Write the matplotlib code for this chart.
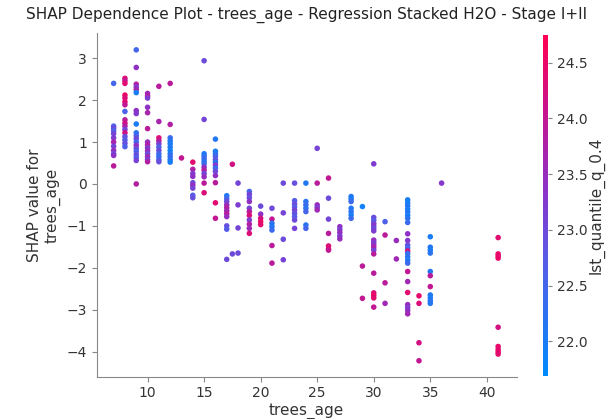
import numpy as np
import matplotlib
matplotlib.use("Agg")
import matplotlib.pyplot as plt
from matplotlib.colors import LinearSegmentedColormap

# trees_age, SHAP value and lst_quantile_q_0.4 for every sample, grouped by age
trees_age = (
    [7] * 12 + [8] * 17 + [9] * 20 + [10] * 14 + [11] * 11 + [12] * 11 + [13] * 1
    + [14] * 9 + [15] * 13 + [16] * 13 + [17] * 11 + [17.5] * 2 + [18] * 4
    + [19] * 11 + [20] * 5 + [21] * 7 + [22] * 4 + [23] * 9 + [24] * 7 + [25] * 5
    + [26] * 7 + [27] * 5 + [28] * 7 + [29] * 3 + [30] * 18 + [31] * 4 + [32] * 2
    + [33] * 24 + [34] * 4 + [35] * 11 + [36] * 1 + [41] * 9
)

shap_values = [
    2.40, 1.38, 1.33, 1.27, 1.20, 1.10, 1.00, 0.90, 0.80, 0.72, 0.68, 0.43,
    2.52, 2.46, 2.40, 2.12, 2.05, 1.96, 1.89, 1.73, 1.53, 1.45, 1.38, 1.30, 1.22, 1.13, 1.05, 0.97, 0.89,
    3.20, 2.78, 2.38, 2.31, 2.25, 2.18, 1.75, 1.68, 1.43, 1.22, 1.15, 1.08, 1.00, 0.92, 0.85, 0.78, 0.70, 0.63, 0.56, 0.00,
    2.16, 2.10, 2.05, 1.83, 1.70, 1.32, 1.00, 0.93, 0.86, 0.79, 0.72, 0.65, 0.58, 0.53,
    2.33, 1.49, 1.10, 1.03, 0.96, 0.88, 0.80, 0.72, 0.65, 0.58, 0.53,
    2.40, 1.42, 1.10, 1.03, 0.96, 0.88, 0.80, 0.72, 0.65, 0.58, 0.52,
    0.62,
    0.52, 0.35, 0.25, 0.18, 0.03, -0.03, -0.10, -0.27, -0.33,
    2.94, 1.54, 0.72, 0.66, 0.60, 0.54, 0.48, 0.40, 0.33, 0.25, 0.17, 0.02, -0.21,
    1.07, 0.78, 0.72, 0.66, 0.58, 0.52, 0.45, 0.38, 0.30, 0.20, 0.03, -0.45, -0.82,
    -0.28, -0.35, -0.42, -0.50, -0.57, -0.64, -0.71, -0.78, -1.00, -1.08, -1.80,
    0.47, -1.67,
    0.02, -0.50, -1.05, -1.65,
    -0.18, -0.25, -0.33, -0.42, -0.58, -0.66, -0.75, -0.86, -0.96, -1.06, -1.18,
    -0.53, -0.72, -0.82, -0.90, -0.97,
    -0.58, -0.84, -0.94, -1.02, -1.10, -1.47, -1.89,
    0.02, -0.69, -1.32, -1.81,
    0.02, -0.40, -0.48, -0.55, -0.62, -0.70, -0.78, -0.86, -1.06,
    0.02, -0.42, -0.50, -0.58, -0.66, -0.98, -1.06,
    0.85, 0.02, -0.50, -0.56, -0.62,
    0.14, -0.34, -0.84, -1.18, -1.48, -1.55, -1.58,
    -1.02, -1.09, -1.16, -1.24, -1.31,
    -0.30, -0.36, -0.42, -0.58, -0.66, -0.74, -0.82,
    -0.54, -1.96, -2.73,
    0.48, -0.80, -0.87, -0.94, -1.00, -1.06, -1.12, -1.34, -1.40, -1.46, -1.52, -1.58, -1.67, -2.13, -2.60, -2.66, -2.72, -2.94,
    -0.90, -1.22, -2.36, -2.85,
    -1.35, -1.79,
    -0.38, -0.45, -0.52, -0.60, -0.67, -0.75, -0.82, -0.92, -1.19, -1.35, -1.46, -1.53, -1.60, -1.66, -1.74, -1.82, -1.89, -2.09, -2.33, -2.59, -2.88, -2.95, -3.02, -3.10,
    -2.67, -2.85, -3.79, -4.22,
    -1.26, -1.51, -1.58, -1.65, -2.09, -2.19, -2.45, -2.65, -2.72, -2.79, -2.85,
    0.02,
    -1.28, -1.67, -1.72, -1.77, -3.42, -3.88, -3.95, -4.01, -4.06,
]

lst_q04 = [
    22.5, 22.6, 23.0, 22.6, 23.1, 23.2, 23.7, 23.1, 23.5, 23.0, 23.4, 23.9,
    24.3, 24.0, 24.4, 24.5, 24.3, 24.4, 24.0, 22.6, 23.9, 24.2, 23.8, 23.1, 24.2, 22.9, 22.7, 22.9, 22.6,
    22.5, 23.4, 23.8, 23.2, 23.7, 22.0, 23.4, 23.3, 22.0, 22.2, 22.6, 23.0, 22.5, 23.5, 23.0, 22.6, 22.9, 22.7, 23.1, 23.8,
    23.6, 23.8, 23.2, 23.4, 23.7, 23.9, 23.5, 23.8, 23.2, 23.5, 23.0, 23.6, 23.1, 23.8,
    23.9, 23.7, 24.3, 23.9, 23.2, 22.6, 23.0, 22.5, 22.3, 22.5, 22.9,
    23.9, 23.8, 22.4, 22.1, 22.0, 22.1, 21.9, 22.1, 22.4, 22.2, 22.0,
    24.0,
    24.4, 23.8, 23.2, 23.4, 23.0, 23.5, 23.1, 22.7, 22.9,
    23.0, 23.1, 22.1, 22.2, 22.5, 22.2, 22.4, 23.4, 23.8, 23.1, 23.5, 23.9, 24.3,
    22.1, 22.0, 22.2, 22.5, 22.9, 22.2, 23.3, 22.4, 23.0, 23.4, 23.9, 24.4, 24.0,
    22.1, 22.5, 23.0, 23.5, 23.8, 23.6, 23.9, 23.5, 22.9, 22.7, 23.0,
    24.2, 23.0,
    23.1, 23.2, 23.1, 23.0,
    22.5, 23.1, 22.9, 23.4, 23.1, 23.9, 24.3, 23.2, 23.8, 23.6, 24.3,
    23.0, 23.4, 24.2, 24.5, 24.4,
    23.0, 24.0, 22.2, 22.1, 22.4, 23.9, 23.9,
    23.0, 23.1, 23.0, 23.1,
    22.9, 22.7, 23.0, 22.7, 23.1, 22.9, 22.7, 23.0, 23.1,
    22.1, 22.2, 22.4, 22.2, 22.5, 22.2, 22.5,
    23.1, 23.9, 23.5, 23.2, 23.6,
    24.0, 23.0, 23.1, 23.9, 24.3, 24.4, 24.0,
    23.4, 23.2, 23.5, 23.2, 23.5,
    22.1, 22.0, 22.4, 22.1, 22.2, 22.0, 22.4,
    21.9, 23.9, 24.0,
    23.2, 23.0, 22.7, 23.1, 23.3, 23.0, 23.2, 23.5, 23.2, 23.4, 23.8, 23.1, 23.9, 23.9, 24.3, 24.5, 24.4, 24.0,
    22.6, 23.9, 23.9, 23.6,
    23.5, 23.6,
    22.0, 21.9, 22.1, 22.0, 22.1, 22.0, 22.2, 22.4, 23.4, 23.3, 22.9, 22.5, 24.3, 22.4, 22.2, 22.1, 22.4, 24.0, 23.6, 24.4, 23.5, 23.2, 23.4, 23.6,
    24.4, 24.3, 24.2, 24.0,
    22.0, 22.1, 22.0, 22.2, 22.1, 23.9, 24.0, 22.1, 22.0, 22.2, 22.1,
    23.3,
    24.4, 24.5, 24.4, 24.5, 24.2, 24.5, 24.4, 24.5, 24.4,
]

# blue -> purple -> red ramp, as used by shap
red_blue = LinearSegmentedColormap.from_list(
    "red_blue",
    [(0.0, "#008bfb"), (0.35, "#5a5ae6"), (0.55, "#8c32c8"), (0.78, "#c8148c"), (1.0, "#ff0052")],
)

fig = plt.figure(figsize=(6.08, 4.19), dpi=100)
ax = fig.add_axes([0.159, 0.101, 0.691, 0.820])
cax = fig.add_axes([0.893, 0.103, 0.008, 0.814])

sc = ax.scatter(trees_age, shap_values, c=lst_q04, cmap=red_blue, vmin=21.69, vmax=24.75,
                s=16, linewidth=0, alpha=1)

ax.set_xlim(5.5, 42.65)
ax.set_ylim(-4.6, 3.6)
ax.set_xticks([10, 15, 20, 25, 30, 35, 40])
ax.set_yticks([3, 2, 1, 0, -1, -2, -3, -4])

ax.spines["top"].set_visible(False)
ax.spines["right"].set_visible(False)
for side in ["left", "bottom"]:
    ax.spines[side].set_color("#888888")
ax.tick_params(colors="#888888", labelcolor="#333333", labelsize=10)

ax.set_xlabel("trees_age", fontsize=11, color="#333333", labelpad=2)
ax.set_ylabel("SHAP value for\ntrees_age", fontsize=11, color="#333333")
ax.set_title("SHAP Dependence Plot - trees_age - Regression Stacked H2O - Stage I+II",
             fontsize=11, color="#222222", pad=10)

cb = fig.colorbar(sc, cax=cax)
cb.outline.set_visible(False)
cb.set_ticks([22.0, 22.5, 23.0, 23.5, 24.0, 24.5])
cb.ax.tick_params(colors="#888888", labelcolor="#333333", labelsize=10, length=3)
cb.set_label("lst_quantile_q_0.4", fontsize=11, color="#333333", labelpad=1)

fig.savefig("out.png", dpi=100)
